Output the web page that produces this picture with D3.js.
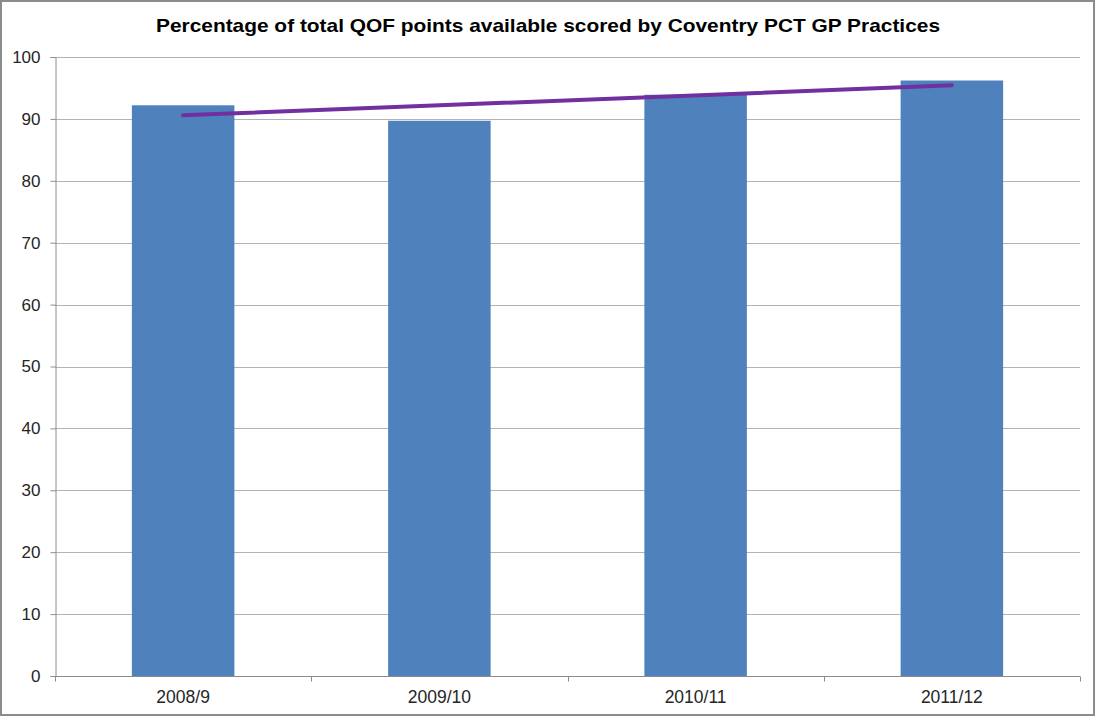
<!DOCTYPE html>
<html>
<head>
<meta charset="utf-8">
<script src="https://cdn.jsdelivr.net/npm/d3@7"></script>
<style>
  html, body { margin: 0; padding: 0; background: #fff; }
  svg { display: block; }
  text { font-family: "Liberation Sans", Arial, sans-serif; }
</style>
</head>
<body>
<svg id="chart" width="1096" height="717"></svg>
<script>
// QOF achievement by year (% of available points)
const years = ["2008/9", "2009/10", "2010/11", "2011/12"];
const scores = [92.2, 89.7, 93.9, 96.2];
const yTicks = [0, 10, 20, 30, 40, 50, 60, 70, 80, 90, 100];
const title = "Percentage of total QOF points available scored by Coventry PCT GP Practices";

const W = 1096, H = 717;
const margin = { left: 55, right: 16, top: 57, bottom: 41 };
const svg = d3.select("#chart");

// outer frame
svg.append("rect")
  .attr("x", 1).attr("y", 1).attr("width", W - 3).attr("height", H - 3)
  .attr("fill", "#fff").attr("stroke", "#8c8c8c").attr("stroke-width", 2);

const x = d3.scaleBand().domain(years)
  .range([margin.left, W - margin.right])
  .paddingInner(0.6).paddingOuter(0.3);
const y = d3.scaleLinear().domain([0, 100])
  .range([H - margin.bottom, margin.top]);

// horizontal gridlines
svg.append("g").selectAll("line").data(yTicks.filter(t => t > 0)).join("line")
  .attr("x1", margin.left).attr("x2", W - margin.right)
  .attr("y1", d => Math.round(y(d)) + 0.5).attr("y2", d => Math.round(y(d)) + 0.5)
  .attr("stroke", "#b3b3b3").attr("stroke-width", 1);

// bars
svg.append("g").selectAll("rect").data(years).join("rect")
  .attr("x", d => x(d))
  .attr("width", x.bandwidth())
  .attr("y", (d, i) => y(scores[i]))
  .attr("height", (d, i) => y(0) - y(scores[i]))
  .attr("fill", "#4f81bd");

// y axis
const yAxis = svg.append("g")
  .attr("transform", `translate(${margin.left + 0.5},0)`)
  .call(d3.axisLeft(y).tickValues(yTicks).tickSize(5).tickPadding(10));
yAxis.select(".domain").attr("stroke", "#8c8c8c");
yAxis.selectAll(".tick line").attr("stroke", "#8c8c8c");
yAxis.selectAll(".tick text")
  .attr("font-size", 17).attr("fill", "#262626")
  .attr("font-family", "Liberation Sans, Arial, sans-serif");

// x axis: category labels with tick marks between categories
const y0 = Math.round(y(0)) + 0.5;
const xAxisG = svg.append("g");
xAxisG.append("line")
  .attr("x1", margin.left).attr("x2", W - margin.right)
  .attr("y1", y0).attr("y2", y0)
  .attr("stroke", "#8c8c8c");
const bounds = d3.range(years.length + 1).map(i => margin.left + i * (W - margin.left - margin.right) / years.length);
xAxisG.selectAll("line.tk").data(bounds).join("line")
  .attr("class", "tk")
  .attr("x1", d => Math.round(d) + 0.5).attr("x2", d => Math.round(d) + 0.5)
  .attr("y1", y0).attr("y2", y0 + 5)
  .attr("stroke", "#8c8c8c");
xAxisG.selectAll("text").data(years).join("text")
  .attr("x", d => x(d) + x.bandwidth() / 2)
  .attr("y", 703)
  .attr("text-anchor", "middle")
  .attr("font-size", 17.5).attr("fill", "#262626")
  .text(d => d);

// linear trendline through the yearly scores
const n = scores.length;
const xs = d3.range(n);
const mx = d3.mean(xs), my = d3.mean(scores);
const slope = d3.sum(xs, (v, i) => (v - mx) * (scores[i] - my)) / d3.sum(xs, v => (v - mx) ** 2);
const icpt = my - slope * mx;
const trend = xs.map(i => [x(years[i]) + x.bandwidth() / 2, y(icpt + slope * i)]);
svg.append("path")
  .attr("d", d3.line()([trend[0], trend[n - 1]]))
  .attr("fill", "none")
  .attr("stroke", "#7030a0")
  .attr("stroke-width", 4)
  .attr("stroke-linecap", "round");

// title
svg.append("text")
  .attr("x", 548).attr("y", 32)
  .attr("text-anchor", "middle")
  .attr("font-size", 19).attr("font-weight", "bold")
  .attr("textLength", 784).attr("lengthAdjust", "spacingAndGlyphs")
  .attr("fill", "#000")
  .text(title);
</script>
</body>
</html>
